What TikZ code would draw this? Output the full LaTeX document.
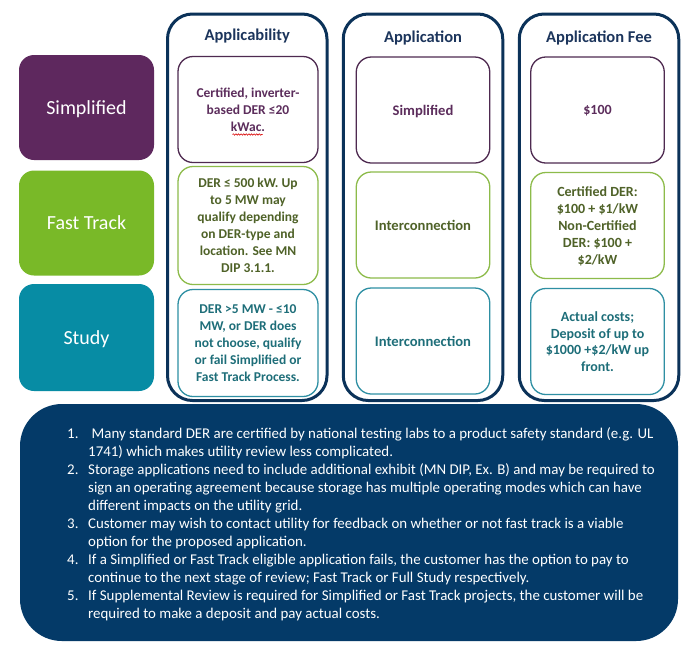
\documentclass[tikz,border=0pt]{standalone}
\usepackage{fontspec}
\setmainfont{Carlito}
\usetikzlibrary{decorations.pathmorphing}
\definecolor{navy}{HTML}{0B3259}
\definecolor{boxnavy}{HTML}{043A68}
\definecolor{headnavy}{HTML}{1C355C}
\definecolor{purF}{HTML}{5E285E}
\definecolor{purT}{HTML}{5C2D5C}
\definecolor{purD}{HTML}{4E2A50}
\definecolor{grnF}{HTML}{79B928}
\definecolor{grnT}{HTML}{4F6228}
\definecolor{grnD}{HTML}{8DBB4A}
\definecolor{tealF}{HTML}{078CA4}
\definecolor{tealT}{HTML}{1E6E79}
\definecolor{tealD}{HTML}{2E8FA3}
\begin{document}
\begin{tikzpicture}[x=1pt,y=-1pt,
  rowlab/.style={rounded corners=15pt, inner sep=0pt, text=white, text depth=0pt,
    minimum width=135pt, minimum height=105pt, font=\fontsize{20}{24}\selectfont},
  column/.style={draw=navy, line width=3pt, rounded corners=25pt, inner sep=0pt,
    minimum width=159.5pt, minimum height=386.5pt},
  head/.style={font=\bfseries\fontsize{16.5}{20}\selectfont, text=headnavy, inner sep=0pt},
  cell/.style={rounded corners=15pt, line width=1.3pt, fill=white, inner sep=0pt,
    align=center, text depth=0pt},
  purcell/.style={cell, draw=purD, text=purT},
  grncell/.style={cell, draw=grnD, text=grnT},
  tealcell/.style={cell, draw=tealD, text=tealT},
  c1/.style={minimum width=140pt, font=\bfseries\fontsize{13.5}{17}\selectfont},
  c2/.style={minimum width=133.5pt, font=\bfseries\fontsize{14.6}{17}\selectfont},
  c3/.style={minimum width=133.5pt, font=\bfseries\fontsize{14}{16.8}\selectfont},
  notebox/.style={fill=boxnavy, rounded corners=42pt, inner sep=0pt,
    minimum width=658pt, minimum height=237pt},
  notes/.style={text=white, inner sep=0pt, anchor=north west,
    font=\fontsize{14.9}{18}\selectfont},
  spell/.style={draw=red!85!black, line width=0.6pt, decorate,
    decoration={snake, amplitude=0.7pt, segment length=2.6pt}}
]
\useasboundingbox (0,0) rectangle (700,646);
\fill[white] (0,0) rectangle (700,646);

% row labels
\node[rowlab, fill=purF] (lsimp) at (86.5,107.5) {Simplified};
\node[rowlab, fill=grnF] (lfast) at (86.5,223) {Fast Track};
\node[rowlab, fill=tealF, minimum height=107pt] (lstudy) at (86.5,337.5) {Study};

% columns
\node[column] (col1) at (247.25,207.25) {};
\node[column] (col2) at (423,207.25) {};
\node[column] (col3) at (599,207.25) {};
\node[head] (h1) at (247.25,36) {Applicability};
\node[head] (h2) at (423,38) {Application};
\node[head] (h3) at (599,38) {Application Fee};

% column 1 cells
\node[purcell, c1, minimum height=106pt] (a1) at (248,109.5)
  {Certified, inverter-\\based DER ≤20\\kWac.};
\node[grncell, c1, minimum height=118pt] (a2) at (248,225.5)
  {DER ≤ 500 kW. Up\\to 5 MW may\\qualify depending\\on DER-type and\\location. See MN\\DIP 3.1.1.};
\node[tealcell, c1, minimum height=107pt] (a3) at (248,343)
  {DER >5 MW - ≤10\\MW, or DER does\\not choose, qualify\\or fail Simplified or\\Fast Track Process.};

% column 2 cells
\node[purcell, c2, minimum height=106pt] (b1) at (423,110) {Simplified};
\node[grncell, c2, minimum height=106pt] (b2) at (423,225) {Interconnection};
\node[tealcell, c2, minimum height=106pt] (b3) at (423,341) {Interconnection};

% column 3 cells
\node[purcell, c3, minimum height=106pt] (f1) at (597.5,110) {\$100};
\node[grncell, c3, minimum height=106pt] (f2) at (597.5,225.5)
  {Certified DER:\\\$100 + \$1/kW\\Non-Certified\\DER: \$100 +\\\$2/kW};
\node[tealcell, c3, minimum height=106pt] (f3) at (597.5,341.5)
  {Actual costs;\\Deposit of up to\\\$1000 +\$2/kW up\\front.};

% spell-check squiggle under kWac
\coordinate (sqa) at (232.5,134.5);
\coordinate (sqb) at (262.5,134.5);
\draw[spell] (sqa) -- (sqb);

% notes box
\node[notebox] (nb) at (349,522.5) {};
\node[notes] (nt) at (67,425.5) {%
\begin{tabular}{@{}p{21pt}@{}l@{}}
1. & \hspace{3.5pt}Many standard DER are certified by national testing labs to a product safety standard (e.g. UL\\
 & 1741) which makes utility review less complicated.\\
2. & Storage applications need to include additional exhibit (MN DIP, Ex. B) and may be required to\\
 & sign an operating agreement because storage has multiple operating modes which can have\\
 & different impacts on the utility grid.\\
3. & Customer may wish to contact utility for feedback on whether or not fast track is a viable\\
 & option for the proposed application.\\
4. & If a Simplified or Fast Track eligible application fails, the customer has the option to pay to\\
 & continue to the next stage of review; Fast Track or Full Study respectively.\\
5. & If Supplemental Review is required for Simplified or Fast Track projects, the customer will be\\
 & required to make a deposit and pay actual costs.
\end{tabular}};
\end{tikzpicture}
\end{document}
